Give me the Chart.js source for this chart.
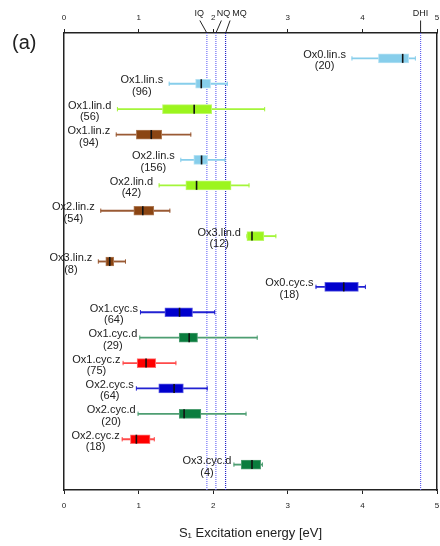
<!DOCTYPE html>
<html>
<head>
<meta charset="utf-8">
<script src="https://cdn.jsdelivr.net/npm/chart.js@4/dist/chart.umd.min.js"></script>
<style>
  html, body { margin: 0; padding: 0; background: #fff; }
  #wrap { width: 440px; height: 546px; }
</style>
</head>
<body>
<div id="wrap"><canvas id="c" width="440" height="546"></canvas></div>
<script>
// S1 excitation energies per molecule family: box = quartiles, whiskers = range
const names = ['Ox0.lin.s', 'Ox1.lin.s', 'Ox1.lin.d', 'Ox1.lin.z', 'Ox2.lin.s', 'Ox2.lin.d',
  'Ox2.lin.z', 'Ox3.lin.d', 'Ox3.lin.z', 'Ox0.cyc.s', 'Ox1.cyc.s', 'Ox1.cyc.d',
  'Ox1.cyc.z', 'Ox2.cyc.s', 'Ox2.cyc.d', 'Ox2.cyc.z', 'Ox3.cyc.d'];
const counts = [20, 96, 56, 94, 156, 42, 54, 12, 8, 18, 64, 29, 75, 64, 20, 18, 4];
const whiskerLow  = [3.86, 1.41, 0.716, 0.70, 1.566, 1.275, 0.493, 2.452, 0.46, 3.378, 1.025, 1.016, 0.792, 0.97, 0.993, 0.78, 2.278];
const q1          = [4.215, 1.764, 1.32, 0.97, 1.74, 1.633, 0.936, 2.452, 0.56, 3.495, 1.352, 1.544, 0.98, 1.27, 1.544, 0.89, 2.376];
const median      = [4.54, 1.84, 1.745, 1.17, 1.844, 1.777, 1.056, 2.52, 0.613, 3.75, 1.549, 1.678, 1.10, 1.476, 1.61, 0.97, 2.52];
const q3          = [4.62, 1.965, 1.98, 1.31, 1.925, 2.24, 1.204, 2.68, 0.667, 3.946, 1.723, 1.79, 1.23, 1.60, 1.835, 1.154, 2.636];
const whiskerHigh = [4.71, 2.19, 2.69, 1.70, 2.157, 2.48, 1.419, 2.84, 0.824, 4.04, 2.02, 2.59, 1.50, 1.92, 2.44, 1.21, 2.66];

// reference energies marked on the top axis
const refNames  = ['IQ', 'NQ', 'MQ', 'DHI'];
const refValues = [1.915, 2.036, 2.166, 4.78];

// colours per linkage / substitution type
const palette = {
  'lin.s': { fill: '#87ceeb', edge: '#b3e1f3', whisker: '#87ceeb' },
  'lin.d': { fill: '#9cf51e', edge: '#bdf86a', whisker: '#a4f53a' },
  'lin.z': { fill: '#8b4513', edge: '#ae7a55', whisker: '#9a5a34' },
  'cyc.s': { fill: '#0000cd', edge: '#5a5ae2', whisker: '#2222d2' },
  'cyc.d': { fill: '#0a7d3e', edge: '#4e9e72', whisker: '#4e9e72' },
  'cyc.z': { fill: '#ff0000', edge: '#ff7070', whisker: '#ff4a4a' }
};
const kindOf = n => n.split('.').slice(1).join('.');
const rowOf = i => i + 1;

const FONT = '"Liberation Sans", Arial, Helvetica, sans-serif';
Chart.defaults.font.family = FONT;
Chart.defaults.color = '#222';

const whiskerData = names.map((n, i) => ({ x: [whiskerLow[i], whiskerHigh[i]], y: rowOf(i) }));
const boxData = names.map((n, i) => ({ x: [q1[i], q3[i]], y: rowOf(i) }));
const medianData = names.map((n, i) => ({ x: median[i], y: rowOf(i) }));
const capData = [], capColors = [];
names.forEach((n, i) => {
  const c = palette[kindOf(n)].whisker;
  capData.push({ x: whiskerLow[i], y: rowOf(i) }, { x: whiskerHigh[i], y: rowOf(i) });
  capColors.push(c, c);
});

const refColors = { IQ: '#7070f8', NQ: '#6a6af4', MQ: '#2626c8', DHI: '#6060f0' };
const refLineSets = refNames.map((r, k) => ({
  type: 'line',
  data: [{ x: refValues[k], y: 0 }, { x: refValues[k], y: 18 }],
  borderColor: refColors[r],
  borderWidth: 1.2,
  borderDash: [1, 1],
  pointRadius: 0,
  showLine: true,
  order: 5
}));

// row names, counts, top-axis reference labels and panel tag
const annotate = {
  id: 'annotate',
  afterDraw(chart) {
    const { ctx, scales: { x, y }, chartArea } = chart;
    ctx.save();
    ctx.fillStyle = '#222';
    ctx.font = '11px ' + FONT;
    ctx.textBaseline = 'middle';
    names.forEach((name, i) => {
      const py = y.getPixelForValue(rowOf(i));
      const gap = name.includes('.lin.') ? 6 : 2.5;
      const right = x.getPixelForValue(whiskerLow[i]) - gap;
      const w = ctx.measureText(name).width;
      ctx.textAlign = 'right';
      ctx.fillText(name, right, py - 3.5);
      ctx.textAlign = 'center';
      ctx.fillText('(' + counts[i] + ')', right - w / 2, py + 8);
    });

    const leader = { IQ: [-7.5, -7], NQ: [7.5, 5.5], MQ: [14, 4.5], DHI: [0, 0] };
    ctx.font = '9px ' + FONT;
    ctx.strokeStyle = '#222';
    ctx.lineWidth = 1;
    refNames.forEach((r, k) => {
      const px = x.getPixelForValue(refValues[k]);
      const [labelDx, lineDx] = leader[r];
      ctx.textAlign = 'center';
      ctx.fillText(r, px + labelDx, 13.5);
      ctx.beginPath();
      ctx.moveTo(px + lineDx, 20.5);
      ctx.lineTo(px, chartArea.top);
      ctx.stroke();
    });

    ctx.font = '20px ' + FONT;
    ctx.textAlign = 'left';
    ctx.fillText('(a)', 12, 43);
    ctx.restore();
  }
};

// tick labels are spaced from the axis by their line height, not by padding
const axisCommon = {
  type: 'linear', min: 0, max: 5, offset: false,
  ticks: { stepSize: 1, font: { size: 8, lineHeight: 3 }, color: '#222', padding: 0 },
  grid: { drawOnChartArea: false, tickLength: 4, color: '#222', lineWidth: 1, offset: false },
  border: { color: '#222', width: 1.5 }
};
const sideCommon = {
  type: 'linear', min: 0, max: 18, reverse: true, offset: false,
  ticks: { display: false },
  grid: { display: false, drawTicks: false, offset: false },
  border: { color: '#222', width: 1.5 }
};
// fixed axis boxes so the plot frame sits at a set place
const fixBox = (h) => s => { s.height = h; s.paddingLeft = 0; s.paddingRight = 0; };

new Chart(document.getElementById('c'), {
  type: 'scatter',
  data: {
    datasets: [
      ...refLineSets,
      {
        type: 'bar', indexAxis: 'y', grouped: false,
        data: whiskerData,
        backgroundColor: names.map(n => palette[kindOf(n)].whisker),
        barThickness: 1.2, borderWidth: 0, order: 4
      },
      {
        type: 'scatter',
        data: capData,
        pointStyle: 'line', rotation: 90, radius: 2.2,
        borderColor: capColors, borderWidth: 1, order: 3
      },
      {
        type: 'bar', indexAxis: 'y', grouped: false,
        data: boxData,
        backgroundColor: names.map(n => palette[kindOf(n)].fill),
        borderColor: names.map(n => palette[kindOf(n)].edge),
        borderWidth: 1, borderSkipped: false,
        barThickness: 9, order: 2
      },
      {
        type: 'scatter',
        data: medianData,
        pointStyle: 'line', rotation: 90, radius: 4.5,
        borderColor: '#111', borderWidth: 1.6, order: 1
      }
    ]
  },
  options: {
    responsive: false,
    animation: false,
    layout: { padding: 0, autoPadding: false },
    plugins: { legend: { display: false }, tooltip: { enabled: false } },
    scales: {
      x: {
        ...axisCommon, position: 'bottom',
        title: { display: true, text: 'S\u2081 Excitation energy [eV]', font: { size: 13 }, color: '#222', padding: { top: 5, bottom: 5 } },
        afterFit: fixBox(56)
      },
      xTop: {
        ...axisCommon, position: 'top',
        ticks: { ...axisCommon.ticks, font: { size: 8, lineHeight: 2.7 } },
        afterFit: fixBox(33)
      },
      y: { ...sideCommon, position: 'left', afterFit: s => { s.width = 64; s.paddingTop = 0; s.paddingBottom = 0; } },
      yRight: { ...sideCommon, position: 'right', afterFit: s => { s.width = 3; s.paddingTop = 0; s.paddingBottom = 0; } }
    }
  },
  plugins: [annotate]
});
</script>
</body>
</html>
